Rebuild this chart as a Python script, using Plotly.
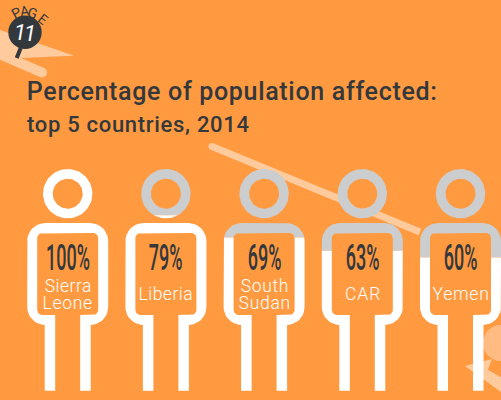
import math
import plotly.graph_objects as go

countries = [["Sierra", "Leone"], ["Liberia"], ["South", "Sudan"], ["CAR"], ["Yemen"]]
affected = [100, 79, 69, 63, 60]
title_line = "Percentage of population affected:"
subtitle_line = "top 5 countries, 2014"

ORANGE = "#FF9A40"
GREY = "#CBCDCE"
WHITE = "#FFFFFF"
PEACH = "#FFCA9C"
BLOB = "#FFBB82"
DARK = "#33383D"

TOP, BOTTOM = 168.7, 390.7
CENTERS = [67.7 + 98.2 * i for i in range(len(affected))]


def arc(cx, cy, r, a0, a1, n=10):
    return [(cx + r * math.cos(math.radians(a0 + (a1 - a0) * k / n)),
             cy + r * math.sin(math.radians(a0 + (a1 - a0) * k / n))) for k in range(n + 1)]


def body_outline(c):
    pts = [(c - 23, BOTTOM), (c - 23, 325)]
    pts += arc(c - 22.5, 307, 18, 90, 180)
    pts += arc(c - 22.5, 241, 18, 180, 270)
    pts += arc(c + 22.5, 241, 18, 270, 360)
    pts += arc(c + 22.5, 307, 18, 0, 90)
    pts += [(c + 23, 325), (c + 23, BOTTOM), (c + 12.5, BOTTOM), (c + 12.5, 315)]
    pts += arc(c + 25.5, 310, 5, 90, 0)
    pts += arc(c + 25.5, 238, 5, 0, -90)
    pts += arc(c - 25.5, 238, 5, -90, -180)
    pts += arc(c - 25.5, 310, 5, 180, 90)
    pts += [(c - 12.5, 315), (c - 12.5, BOTTOM)]
    return pts


def body_inner(c):
    pts = arc(c + 25.5, 310, 5, 90, 0) + arc(c + 25.5, 238, 5, 0, -90)
    pts += arc(c - 25.5, 238, 5, -90, -180) + arc(c - 25.5, 310, 5, 180, 90)
    return pts


def circle(c, r, reverse=False):
    a = (0, 360) if not reverse else (360, 0)
    return arc(c, 193.7, r, a[0], a[1], 72)


def clip(poly, level, keep_below):
    def inside(p):
        return p[1] >= level if keep_below else p[1] <= level
    out = []
    for i, p in enumerate(poly):
        q = poly[(i + 1) % len(poly)]
        if inside(p):
            out.append(p)
        if inside(p) != inside(q):
            t = (level - p[1]) / (q[1] - p[1])
            out.append((p[0] + t * (q[0] - p[0]), level))
    return out


def fill_trace(polys, color, name):
    xs, ys = [], []
    for poly in polys:
        if not poly:
            continue
        closed = poly + [poly[0]]
        xs += [p[0] for p in closed] + [None]
        ys += [p[1] for p in closed] + [None]
    return go.Scatter(x=xs, y=ys, mode="lines", fill="toself", fillcolor=color,
                      line=dict(width=0, color=color), hoverinfo="skip", name=name,
                      showlegend=False)


fig = go.Figure()
for c, v in zip(CENTERS, affected):
    level = BOTTOM - (BOTTOM - TOP) * v / 100
    fig.add_trace(fill_trace([body_inner(c), circle(c, 15)], ORANGE, "inside"))
    outer, hole = circle(c, 24.7), circle(c, 15, True)
    body = body_outline(c)
    fig.add_trace(fill_trace([clip(outer, level, False), clip(hole, level, False),
                              clip(body, level, False)], GREY, "rest"))
    fig.add_trace(fill_trace([clip(outer, level, True), clip(hole, level, True),
                              clip(body, level, True)], WHITE, "affected"))

shapes = [
    dict(type="line", x0=212, y0=146.5, x1=420, y1=232, line=dict(color=PEACH, width=7), layer="below"),
    dict(type="circle", x0=208.5, y0=143, x1=215.5, y1=150, fillcolor=PEACH, line_width=0, layer="below"),
    dict(type="path", path="M0,30 L74,55.7 L22,58 L0,52 Z", fillcolor=PEACH, line_width=0, layer="below"),
    dict(type="line", x0=-5, y0=52, x1=42, y1=72.5, line=dict(color=PEACH, width=10), layer="below"),
    dict(type="circle", x0=37, y0=67.5, x1=47, y1=77.5, fillcolor=PEACH, line_width=0, layer="below"),
    dict(type="circle", x0=483, y0=325, x1=519, y1=361, fillcolor=BLOB, line_width=0, layer="below"),
    dict(type="path", path="M465,366 L492,359 L487,372 L501,381 L501,392 Z", fillcolor=PEACH, line_width=0, layer="below"),
    dict(type="line", x0=486, y0=372, x1=510, y1=386, line=dict(color=PEACH, width=6), layer="below"),
    dict(type="line", x0=20.7, y0=48, x1=16.7, y1=58, line=dict(color=DARK, width=4)),
    dict(type="circle", x0=8.3, y0=15.5, x1=41.7, y1=49, fillcolor=DARK, line_width=0),
]

annotations = []


def note(x, y, text, size, color, family="Roboto", angle=0, weight=None, style=None):
    font = dict(family=family, size=size, color=color)
    if weight:
        font["weight"] = weight
    if style:
        font["style"] = style
    annotations.append(dict(x=x, y=y, text=text, showarrow=False, xref="x", yref="y",
                            xanchor="center", yanchor="middle", font=font, textangle=angle))


note(232, 91, title_line, 25, DARK, weight=500)
note(138, 124, subtitle_line, 22, DARK, weight=500)
for c, v, names in zip(CENTERS, affected, countries):
    note(c, 258, f"{v}%", 36, DARK, weight=500)
    if len(names) == 2:
        note(c, 286, names[0], 17.5, WHITE, weight=300)
        note(c, 302.7, names[1], 17.5, WHITE, weight=300)
    else:
        note(c, 294, names[0], 17.5, WHITE, weight=300)

for x, y, ch, ang in [(16, 13, "P", -28), (24, 10.5, "A", -8), (33, 12.5, "G", 18), (42.5, 19, "E", 38)]:
    note(x, y, ch, 14, DARK, angle=ang)
note(20, 32.5, "1", 22, WHITE, style="italic")
note(30, 33.5, "1", 22, WHITE, style="italic")

fig.update_layout(
    width=501, height=400, autosize=False,
    margin=dict(l=0, r=0, t=0, b=0),
    paper_bgcolor=ORANGE, plot_bgcolor=ORANGE,
    xaxis=dict(range=[0, 501], visible=False, fixedrange=True),
    yaxis=dict(range=[400, 0], visible=False, fixedrange=True),
    shapes=shapes, annotations=annotations, showlegend=False,
)

post = """
document.documentElement.style.overflow = 'hidden';
document.body.style.margin = '0';
document.body.style.background = '%s';
setTimeout(function () {
  document.querySelectorAll('.annotation-text').forEach(function (t) {
    var s = t.textContent, w = t.getComputedTextLength(), f = 1, adj = 'spacing';
    if (/%%$/.test(s)) { f = 0.5; adj = 'spacingAndGlyphs'; }
    else if (s.indexOf('Percentage') === 0) { f = 410 / w; }
    else if (s.indexOf('top 5') === 0) { f = 222 / w; }
    else if (s.length > 2) { f = 1.06; }
    if (f !== 1) { t.setAttribute('textLength', w * f); t.setAttribute('lengthAdjust', adj); }
  });
}, 60);
""" % ORANGE
fig.write_html("out.html", config={"displayModeBar": False}, post_script=post)
